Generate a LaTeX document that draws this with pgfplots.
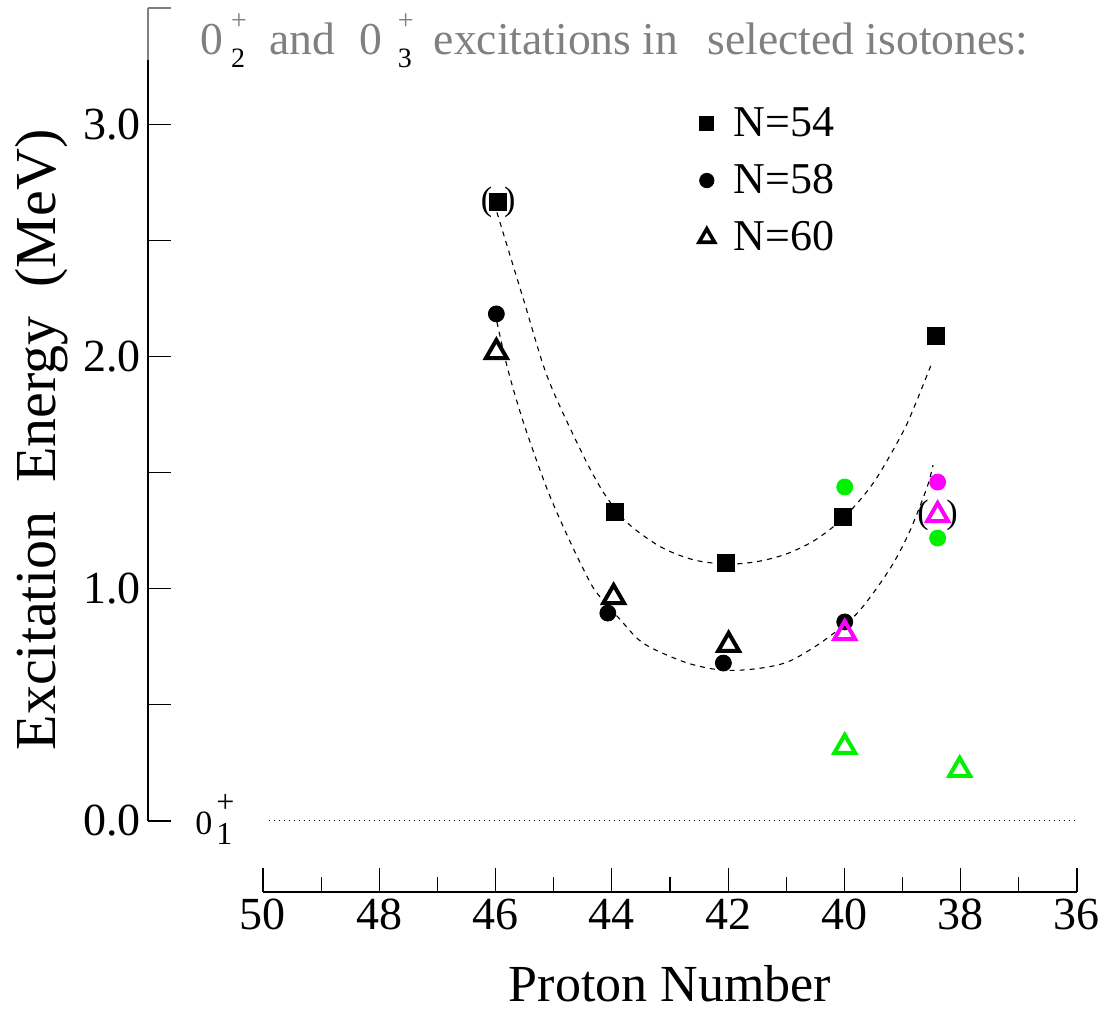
\documentclass[border=0pt]{standalone}
\usepackage{pgfplots}
\pgfplotsset{compat=1.18}
\usepackage{fontspec}
\setmainfont{Liberation Serif}
\definecolor{mygreen}{RGB}{0,240,0}
\definecolor{mymag}{RGB}{255,0,255}
\definecolor{tgray}{RGB}{128,128,128}
\newcommand\fs[1]{\fontsize{#1}{#1}\selectfont}
\newcommand\tss[2]{\makebox[0pt][l]{\raisebox{12.5pt}{\fs{14}#1}}\raisebox{-6.5pt}{\fs{14}\color{black}#2}}
\begin{document}
\begin{tikzpicture}
\useasboundingbox (0,0) rectangle (552.5pt,505.5pt);
\begin{axis}[
  at={(74pt,95pt)}, anchor=south west,
  scale only axis, width=464.5pt, height=406.5pt,
  xmin=36, xmax=52, x dir=reverse, ymin=0, ymax=3.5,
  axis x line=none, axis y line=left, axis line style={-, line width=0.6pt},
  ytick={0,0.5,1,1.5,2,2.5,3}, yticklabels={0.0,,1.0,,2.0,,3.0},
  extra y ticks={3.5}, extra y tick labels={},
  extra y tick style={tick style={tgray, line width=0.6pt}},
  tick align=inside, major tick length=11.5pt,
  tick style={black, line width=0.6pt},
  yticklabel style={font=\fs{23}},
  clip=false,
  legend style={draw=none, fill=none, at={(axis cs:42.62,3.108)}, anchor=north west,
    font=\fs{22}, row sep=8.5pt},
  legend cell align=left,
]
\draw[tgray, line width=0.8pt] (axis cs:52,3.276) -- (axis cs:52,3.5);
% ground-state dotted line
\addplot[forget plot, black, dotted, line width=0.5pt] coordinates {(49.92,0) (36,0)};
% upper dashed curve
\addplot[forget plot, black, dash pattern=on 2.5pt off 2.5pt, line width=0.55pt, smooth, tension=0.5] coordinates {
(45.99,2.62) (45.53,2.243) (45.12,1.911) (44.55,1.597) (44.15,1.412) (43.74,1.283)
(43.17,1.180) (42.60,1.124) (42.02,1.106) (41.5,1.117) (41.0,1.150) (40.5,1.211)
(40.0,1.310) (39.5,1.458) (39.0,1.673) (38.75,1.815) (38.49,1.978)};
% lower dashed curve
\addplot[forget plot, black, dash pattern=on 2.5pt off 2.5pt, line width=0.55pt, smooth, tension=0.5] coordinates {
(45.99,2.148) (45.80,1.942) (45.53,1.713) (45.12,1.425) (44.72,1.197) (44.38,1.025)
(44.20,0.960) (43.86,0.865) (43.57,0.785) (43.29,0.740) (42.71,0.680) (42.14,0.650)
(41.57,0.654) (40.99,0.684) (40.42,0.766) (39.85,0.878) (39.51,0.981) (39.16,1.111)
(38.87,1.253) (38.58,1.438) (38.48,1.532)};
% N=60 black triangles
\addplot[forget plot, only marks, mark=triangle, mark size=6pt, black, line width=2pt]
  coordinates {(46.0,2.019) (43.98,0.964) (42.0,0.758)};
% N=58 black circles
\addplot[forget plot, only marks, mark=*, mark size=4pt, black]
  coordinates {(46.0,2.183) (44.08,0.895) (42.09,0.680) (40.0,0.857)};
% N=54 squares
\addplot[forget plot, only marks, mark=square*, mark size=4.25pt, black]
  coordinates {(45.97,2.665) (43.96,1.330) (42.04,1.111) (40.04,1.309) (38.43,2.088)};
% magenta
\addplot[forget plot, only marks, mark=*, mark size=4pt, mymag, fill=mymag]
  coordinates {(38.40,1.459)};
\addplot[forget plot, only marks, mark=triangle, mark size=6pt, mymag, line width=2pt]
  coordinates {(40.0,0.809) (38.40,1.317)};
% green
\addplot[forget plot, only marks, mark=*, mark size=4pt, mygreen, fill=mygreen]
  coordinates {(40.0,1.438) (38.40,1.218)};
\addplot[forget plot, only marks, mark=triangle, mark size=6pt, mygreen, line width=2pt]
  coordinates {(40.0,0.319) (38.02,0.22)};
% parentheses
\node[font=\fs{17}] at (axis cs:46.17,2.665) {(};
\node[font=\fs{17}] at (axis cs:45.77,2.665) {)};
\node[font=\fs{17}] at (axis cs:38.65,1.317) {(};
\node[font=\fs{17}] at (axis cs:38.15,1.317) {)};
% legend
\addlegendimage{only marks, mark=square*, mark size=3.5pt, black}
\addlegendentry{\hspace{7.5pt}N=54}
\addlegendimage{only marks, mark=*, mark size=3.6pt, black}
\addlegendentry{\hspace{7.5pt}N=58}
\addlegendimage{only marks, mark=triangle, mark size=4.5pt, black, line width=1.8pt}
\addlegendentry{\hspace{7.5pt}N=60}
\end{axis}
\begin{axis}[
  at={(131.5pt,59.5pt)}, anchor=south west,
  scale only axis, width=407pt, height=20pt,
  xmin=36, xmax=50, x dir=reverse, ymin=0, ymax=1,
  axis y line=none, axis x line=bottom, axis line style={-, line width=0.6pt},
  xtick={36,38,40,42,44,46,48,50}, xticklabels={36,38,40,42,44,46,48,50},
  minor xtick={37,39,41,43,45,47,49},
  tick align=inside, major tick length=12pt, minor tick length=7.5pt,
  tick style={black, line width=0.6pt},
  xticklabel style={font=\fs{23}},
  xlabel={Proton Number}, xlabel style={font=\fs{26}, yshift=-11pt},
]
\addplot[draw=none] coordinates {(36,0) (50,0)};
\end{axis}
\node[anchor=base west, font=\fs{22.8}, text=tgray, inner sep=0pt] at (100pt,478pt)
  {0\hspace{4pt}\tss{+}{2}\hspace{12pt}and\hspace{12pt}0\hspace{8pt}\tss{+}{3}\hspace{11pt}excitations in\hspace{9pt} selected isotones:};
\node[anchor=base west, font=\fs{17}, inner sep=0pt] at (97.5pt,88pt)
  {0\hspace{2pt}\makebox[0pt][l]{\raisebox{11pt}{\fs{16}+}}\raisebox{-5pt}{\fs{16}1}};
\node[rotate=90, font=\fs{29}] at (21pt,285.5pt) {Excitation\ \ Energy\ \ (MeV)};
\end{tikzpicture}
\end{document}
